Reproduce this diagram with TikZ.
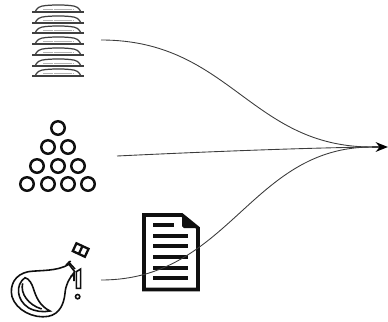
\documentclass[tikz,border=0pt]{standalone}
\usepackage{xcolor}
\usetikzlibrary{arrows.meta,positioning}
\definecolor{iconblack}{RGB}{15, 15, 15}
\definecolor{flowgray}{RGB}{60, 60, 60}

\begin{document}
\begin{tikzpicture}[
    x=0.02cm, y=-0.02cm,
    dish/.style={draw=iconblack!80, line width=0.7pt, fill=white},
    dishbase/.style={draw=iconblack!80, line width=0.7pt},
    dishfill/.style={draw=gray!60, line width=1pt, dash pattern=on 0.3pt off 0.3pt},
    ring/.style={circle, draw=iconblack, line width=1.4pt, minimum size=0.27cm, inner sep=0pt},
    sheet/.style={draw=iconblack, line width=2pt, fill=white, line join=miter},
    textline/.style={draw=iconblack, line width=1.8pt},
    flask/.style={draw=iconblack, line width=0.9pt, fill=white},
    flow/.style={draw=flowgray, line width=0.5pt},
    arrow/.style={-{Stealth[length=7pt,width=5.5pt,black]}, draw=flowgray, line width=0.9pt}
]
\useasboundingbox (0,0) rectangle (388,321);

% Stack of dishes
\foreach \y in {12,23,33,44,55,66,76} {
    \draw[dish] (35,\y) .. controls (37,\y-4) and (39,\y-6) .. (46,\y-6.5) .. controls (55,\y-7.2) and (62,\y-7.2) .. (70,\y-6.5) .. controls (77,\y-6) and (79,\y-4) .. (81,\y);
    \draw[dishfill] (43,\y-2.5) -- (73,\y-2.5);
    \draw[dishbase] (32,\y) -- (84,\y);
}

% Pile of rings
\foreach \name/\px/\py in {a/58/128, b/48/147, c/68/147, d/37/166, e/58/166, f/78/166, g/27/184, h/48/184, i/68/184, j/88/184} {
    \node[ring] (ring\name) at (\px,\py) {};
}

% Document
\draw[sheet] (144,215) -- (182,215) -- (198,228) -- (198,289.5) -- (144,289.5) -- cycle;
\fill[iconblack] (182,214) -- (199,228) -- (184,228) -- (182,226) -- cycle;
\draw[textline] (153,225) -- (174,225);
\foreach \y in {236,246,257,268,278} {
    \draw[textline] (153,\y) -- (188,\y);
}

% Flask
\begin{scope}[shift={(0,205)}, x=0.00667cm, y=-0.00667cm]
    \draw[flask] (207,178) .. controls (170,200) and (120,195) .. (85,200) .. controls (45,208) and (28,240) .. (36,275)
        .. controls (48,315) and (100,342) .. (145,334) .. controls (180,327) and (192,295) .. (195,265) .. controls (197,240) and (205,225) .. (224,200) -- cycle;
    \draw[flask] (75,218) .. controls (45,240) and (50,285) .. (85,308) .. controls (105,320) and (130,322) .. (150,318)
        .. controls (118,302) and (108,275) .. (100,250) .. controls (95,235) and (88,222) .. (75,218) -- cycle;
    \draw[flask, fill=none] (68,235) .. controls (60,265) and (85,300) .. (125,312);
    \draw[flask] (205,170) -- (225,192);
    \draw[flask] (198,180) -- (212,168);
    \draw[flask, fill=none] (212,215) -- (222,208) -- (222,228);
    \draw[flask] (229,200) -- (242,192) -- (242,250) -- (229,250) -- cycle;
    \draw[flask] (233,275) circle[radius=6.5];
    \draw[flask, line width=1.3pt, rotate around={-25:(242,135)}] (222,122) rectangle (262,148);
    \draw[flask, line width=1.3pt, rotate around={-25:(242,135)}] (242,122) -- (242,148);
\end{scope}

% Connections
\coordinate (dishes_out) at (101,40);
\coordinate (rings_out) at (117,156);
\coordinate (flask_out) at (101,280);
\coordinate (merge) at (372,147);
\coordinate (tip) at (388,147);

\draw[flow] (dishes_out) .. controls (230,40) and (250,147) .. (merge);
\draw[flow] (rings_out) .. controls (200,152) and (300,148) .. (merge);
\draw[flow] (flask_out) .. controls (230,280) and (250,147) .. (merge);
\draw[arrow] (merge) -- (tip);

\end{tikzpicture}
\end{document}
